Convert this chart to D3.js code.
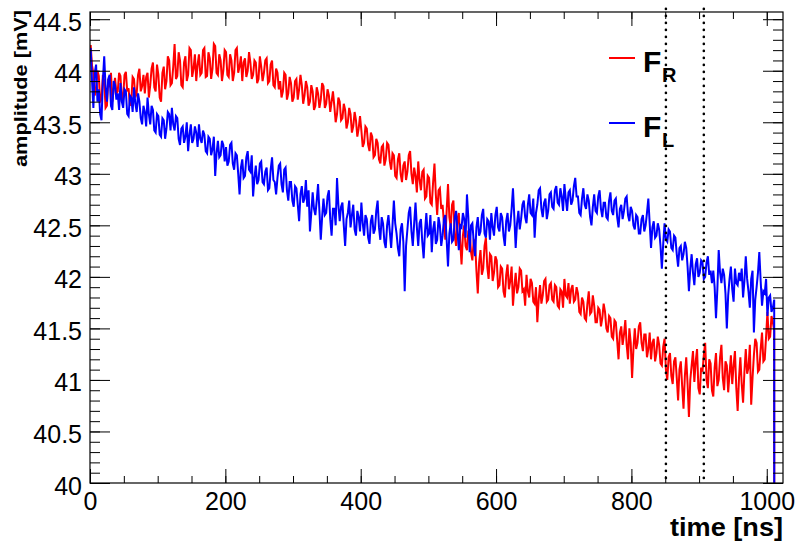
<!DOCTYPE html>
<html><head><meta charset="utf-8">
<script src="https://cdn.jsdelivr.net/npm/d3@7"></script>
<style>html,body{margin:0;padding:0;background:#fff;} svg{display:block;}</style>
</head><body><svg id="c" width="800" height="543"></svg>
<script>
const binWidth = 2; // ns per bin
const timeTicks = [0, 200, 400, 600, 800, 1000];
const ampTicks = [40, 40.5, 41, 41.5, 42, 42.5, 43, 43.5, 44, 44.5];
const markerTimes = [851, 907];
const seriesSubs = ["R", "L"];
const xTitle = "time [ns]";
const yTitle = "amplitude [mV]";

const redValues = [
44.25,44.05,43.98,43.76,43.82,44.00,43.95,43.70,43.72,43.96,43.90,43.64,43.66,43.92,43.84,43.98,43.70,43.82,43.93,43.78,
43.80,43.98,43.95,43.72,43.74,43.96,43.99,43.80,43.83,43.66,43.70,43.94,43.92,43.74,43.78,43.96,44.02,43.80,43.85,43.96,
43.78,43.94,43.98,43.74,43.86,44.02,44.08,43.84,43.80,44.06,43.96,43.74,43.70,43.98,44.04,43.82,43.90,44.14,44.10,43.86,
43.88,44.04,44.26,43.92,43.95,44.18,44.10,43.86,43.84,44.08,44.14,43.90,43.96,44.22,44.20,43.94,44.02,44.16,43.90,44.06,
44.16,43.96,43.98,44.20,44.22,43.94,43.95,44.18,44.12,43.92,44.02,44.26,44.24,43.98,43.96,44.16,44.10,43.90,44.00,44.20,
44.18,43.96,43.94,44.16,44.10,43.90,43.98,44.20,44.22,43.98,44.04,44.14,43.90,44.08,44.12,43.94,44.00,44.18,44.08,43.92,
43.96,44.10,44.08,43.88,43.92,44.14,44.04,43.90,43.98,44.10,44.12,43.88,43.90,44.06,44.10,43.86,43.84,44.02,43.98,43.82,
43.90,43.74,43.80,43.98,43.96,43.72,43.78,43.94,43.88,43.70,43.74,43.90,43.92,43.72,43.82,43.96,43.86,43.68,43.76,43.90,
43.84,43.66,43.70,43.86,43.80,43.62,43.66,43.84,43.78,43.64,43.72,43.88,43.85,43.64,43.68,43.82,43.76,43.60,43.70,43.80,
43.66,43.50,43.58,43.74,43.70,43.52,43.54,43.68,43.62,43.44,43.50,43.64,43.58,43.40,43.46,43.60,43.52,43.36,43.44,43.56,
43.42,43.26,43.30,43.46,43.44,43.28,43.22,43.40,43.36,43.16,43.18,43.34,43.30,43.14,43.10,43.26,43.28,43.08,43.14,43.30,
43.28,43.12,43.04,43.20,43.18,42.98,42.96,43.14,43.20,43.00,42.92,43.08,43.12,42.94,43.02,43.18,43.22,43.00,42.90,43.06,
42.98,42.82,43.12,42.94,42.84,43.02,43.04,42.76,42.78,42.98,42.96,42.72,42.70,42.92,43.10,42.80,42.60,42.84,42.86,42.66,
42.70,42.52,42.36,42.64,42.90,42.58,42.48,42.70,42.74,42.40,42.30,42.56,42.62,42.34,42.12,42.40,42.50,42.30,42.26,42.44,
42.44,42.24,42.16,42.36,42.34,42.06,41.84,42.14,42.26,42.02,42.08,42.30,42.38,42.10,41.98,42.22,42.20,41.96,42.04,42.20,
42.16,41.90,41.92,42.10,42.08,41.86,41.80,42.02,42.12,41.88,41.96,42.10,41.72,41.90,42.04,41.84,41.90,42.08,42.06,41.86,
41.88,41.72,42.02,41.86,41.80,41.98,41.94,41.76,41.74,41.90,41.56,41.78,41.92,41.74,41.82,41.96,41.98,41.76,41.78,41.92,
41.94,41.78,41.76,41.92,41.90,41.72,41.70,41.88,41.86,41.70,41.98,41.82,41.80,41.94,41.74,41.88,41.92,41.76,41.78,41.90,
41.84,41.66,41.64,41.80,41.76,41.60,41.58,41.74,41.86,41.64,41.66,41.82,41.72,41.56,41.56,41.70,41.68,41.52,41.60,41.74,
41.66,41.50,41.46,41.62,41.60,41.42,41.40,41.58,41.56,41.38,41.20,41.46,41.52,41.34,41.44,41.58,41.34,41.20,41.50,41.36,
41.02,41.30,41.50,41.30,41.36,41.52,41.56,41.36,41.28,41.44,41.44,41.22,41.30,41.46,41.20,41.36,41.40,41.18,41.26,41.42,
41.34,41.16,41.14,41.32,41.40,41.10,41.00,41.22,41.26,41.04,40.96,41.18,41.22,41.02,40.80,41.10,41.18,40.94,40.72,41.04,
41.22,40.96,40.64,41.00,41.14,41.28,40.98,41.18,41.30,40.92,40.86,41.12,41.08,41.24,41.36,41.00,40.92,41.20,41.16,40.90,
40.84,41.12,41.26,40.94,41.00,41.22,41.34,41.02,40.90,41.18,41.14,40.88,41.06,41.24,40.96,41.14,41.28,40.92,40.70,41.02,
41.22,40.96,40.78,41.08,41.30,41.06,41.12,41.34,40.76,41.02,41.24,41.40,41.36,41.08,41.10,41.30,41.46,41.18,41.20,41.42,
41.66,41.40,41.42,41.62,41.56,41.48,0
];

const blueValues = [
44.22,43.90,43.64,43.98,44.06,43.70,43.82,43.58,43.52,43.90,44.14,43.84,43.70,43.92,43.96,43.66,43.62,43.90,43.86,43.72,
43.78,43.62,43.88,43.70,43.64,43.82,43.80,43.58,43.56,43.76,43.74,43.60,43.84,43.68,43.60,43.78,43.70,43.54,43.48,43.66,
43.60,43.46,43.74,43.58,43.48,43.66,43.62,43.42,43.40,43.58,43.56,43.38,43.36,43.54,43.52,43.34,43.44,43.60,43.58,43.42,
43.64,43.48,43.42,43.56,43.54,43.34,43.28,43.44,43.46,43.30,43.36,43.50,43.22,43.38,43.48,43.30,43.34,43.46,43.40,43.26,
43.48,43.34,43.30,43.42,43.38,43.22,43.20,43.36,43.34,43.18,43.24,43.36,42.98,43.20,43.32,43.16,43.18,43.32,43.28,43.12,
43.26,43.08,43.12,43.28,43.30,43.10,43.04,43.20,43.18,43.00,42.80,43.06,43.14,42.96,42.98,43.16,43.22,43.04,43.02,43.18,
42.78,42.96,43.08,42.90,42.94,43.10,43.12,42.92,42.90,43.02,43.06,42.84,42.86,43.04,43.16,42.94,42.92,42.80,42.96,43.08,
43.10,42.90,42.82,43.04,43.06,42.84,42.74,42.92,42.92,42.74,42.68,42.88,42.86,42.70,42.54,42.80,42.88,42.72,42.76,42.94,
42.68,42.84,42.44,42.62,42.82,42.66,42.60,42.74,42.90,42.64,42.36,42.58,42.76,42.60,42.62,42.78,42.84,42.56,42.40,42.66,
42.66,42.50,42.96,42.70,42.54,42.68,42.72,42.50,42.30,42.56,42.62,42.74,42.48,42.60,42.70,42.46,42.40,42.64,42.58,42.44,
42.72,42.52,42.40,42.60,42.56,42.38,42.32,42.54,42.60,42.42,42.46,42.64,42.74,42.48,42.36,42.58,42.52,42.34,42.28,42.50,
42.60,42.44,42.28,42.50,42.74,42.52,42.42,42.28,42.20,42.46,42.52,42.34,41.86,42.30,42.46,42.62,42.68,42.44,42.30,42.52,
42.72,42.48,42.30,42.52,42.56,42.34,42.18,42.44,42.62,42.40,42.42,42.60,42.24,42.46,42.54,42.32,42.36,42.58,42.50,42.30,
42.40,42.56,42.60,42.36,42.10,42.42,42.52,42.34,42.36,42.58,42.64,42.44,42.26,42.50,42.48,42.62,42.56,42.38,42.80,42.58,
42.24,42.50,42.52,42.34,42.20,42.48,42.58,42.40,42.44,42.60,42.66,42.42,42.38,42.56,42.54,42.36,42.62,42.48,42.40,42.60,
42.68,42.48,42.44,42.62,42.58,42.40,42.30,42.54,42.62,42.44,42.50,42.66,42.86,42.58,42.28,42.52,42.64,42.46,42.56,42.70,
42.74,42.58,42.52,42.70,42.80,42.62,42.60,42.76,42.38,42.62,42.70,42.84,42.86,42.66,42.58,42.72,42.76,42.56,42.64,42.80,
42.82,42.68,42.66,42.84,42.88,42.72,42.70,42.86,42.78,42.64,42.90,42.76,42.64,42.82,42.84,42.70,42.74,42.88,42.96,42.78,
42.78,42.62,42.60,42.76,42.86,42.70,42.66,42.80,42.74,42.58,42.50,42.68,42.80,42.64,42.62,42.78,42.84,42.66,42.58,42.72,
42.72,42.58,42.56,42.74,42.82,42.64,42.60,42.74,42.76,42.58,42.48,42.66,42.70,42.56,42.64,42.76,42.78,42.60,42.54,42.68,
42.64,42.50,42.46,42.60,42.58,42.42,42.42,42.56,42.60,42.44,42.50,42.62,42.76,42.52,42.28,42.48,42.54,42.38,42.40,42.52,
42.46,42.30,42.08,42.32,42.52,42.36,42.34,42.46,42.44,42.28,42.26,42.40,42.38,42.22,42.10,42.28,42.30,42.16,42.22,42.34,
42.28,42.10,41.86,42.08,42.22,42.04,41.92,42.12,42.18,42.00,42.04,42.16,42.14,41.98,42.00,42.14,42.20,42.02,42.06,41.94,
42.06,41.90,41.60,41.88,42.26,42.04,41.94,42.08,42.02,41.84,41.50,41.82,41.98,42.10,41.88,41.76,42.08,41.94,41.92,42.04,
41.96,42.08,41.80,41.96,42.20,41.98,41.86,41.70,41.98,42.06,41.46,41.78,41.90,42.04,42.24,41.96,41.72,41.86,41.84,41.98,
41.62,41.80,41.82,41.66,41.70,41.78,0
];

const svg = d3.select("#c");
const L = 90, R = 783, T = 12, B = 483;
const x = d3.scaleLinear().domain([0, 1024]).range([L, R]);
const y = d3.scaleLinear().domain([40, 44.57]).range([B, T]);
const font = "'Liberation Sans', Arial, Helvetica, sans-serif";

svg.append("rect").attr("width", 800).attr("height", 543).attr("fill", "#fff");

svg.append("defs").append("clipPath").attr("id", "clip")
  .append("rect").attr("x", L).attr("y", T).attr("width", R - L).attr("height", B - T);

const line = d3.line()
  .x((d, i) => x(i * binWidth + binWidth / 2))
  .y(d => y(d));

const plot = svg.append("g").attr("clip-path", "url(#clip)");
plot.append("path").datum(redValues).attr("d", line)
  .attr("fill", "none").attr("stroke", "#ff0000").attr("stroke-width", 2).attr("stroke-linejoin", "miter");
plot.append("path").datum(blueValues).attr("d", line)
  .attr("fill", "none").attr("stroke", "#0000ff").attr("stroke-width", 2).attr("stroke-linejoin", "miter");

// dotted markers
svg.selectAll("line.marker").data(markerTimes).enter().append("line")
  .attr("class", "marker")
  .attr("x1", d => x(d)).attr("x2", d => x(d))
  .attr("y1", y(44.6)).attr("y2", y(40))
  .attr("stroke", "#000").attr("stroke-width", 2.6)
  .attr("stroke-linecap", "round").attr("stroke-dasharray", "0,7");

// axes
const minorY = d3.range(400, 446, 1).map(v => v / 10);
const minorX = d3.range(0, 1001, 50);

function styleAxis(g) {
  g.select(".domain").remove();
  g.selectAll(".tick line").attr("stroke", "#000").attr("stroke-width", 1);
}

svg.append("g").attr("transform", `translate(${L},0)`)
  .call(d3.axisLeft(y).tickValues(minorY).tickSize(-10).tickFormat(""))
  .call(styleAxis);
svg.append("g").attr("transform", `translate(${L},0)`)
  .call(d3.axisLeft(y).tickValues(ampTicks).tickSize(-20).tickPadding(8).tickFormat(d => String(d)))
  .call(styleAxis)
  .call(g => g.selectAll("text").attr("font-family", font).attr("font-size", 25)
    .attr("fill", "#000").attr("dy", "0.44em"));
svg.append("g").attr("transform", `translate(${R},0)`)
  .call(d3.axisRight(y).tickValues(minorY).tickSize(-10).tickFormat(""))
  .call(styleAxis);
svg.append("g").attr("transform", `translate(${R},0)`)
  .call(d3.axisRight(y).tickValues(ampTicks).tickSize(-20).tickFormat(""))
  .call(styleAxis);

svg.append("g").attr("transform", `translate(0,${B})`)
  .call(d3.axisBottom(x).tickValues(minorX).tickSize(-7).tickFormat(""))
  .call(styleAxis);
svg.append("g").attr("transform", `translate(0,${B})`)
  .call(d3.axisBottom(x).tickValues(timeTicks).tickSize(-14).tickPadding(9).tickFormat(d => String(d)))
  .call(styleAxis)
  .call(g => g.selectAll("text").attr("font-family", font).attr("font-size", 25).attr("fill", "#000"));
svg.append("g").attr("transform", `translate(0,${T})`)
  .call(d3.axisTop(x).tickValues(minorX).tickSize(-7).tickFormat(""))
  .call(styleAxis);
svg.append("g").attr("transform", `translate(0,${T})`)
  .call(d3.axisTop(x).tickValues(timeTicks).tickSize(-14).tickFormat(""))
  .call(styleAxis);

svg.append("rect").attr("x", L).attr("y", T).attr("width", R - L).attr("height", B - T)
  .attr("fill", "none").attr("stroke", "#000").attr("stroke-width", 1.2);

// titles
svg.append("text").attr("x", R).attr("y", 536).attr("text-anchor", "end")
  .attr("font-family", font).attr("font-weight", "bold").attr("font-size", 26)
  .attr("textLength", 113).attr("lengthAdjust", "spacingAndGlyphs").text(xTitle);
svg.append("text").attr("transform", "translate(27,10) rotate(-90)").attr("text-anchor", "end")
  .attr("font-family", font).attr("font-weight", "bold").attr("font-size", 18)
  .attr("textLength", 157).attr("lengthAdjust", "spacingAndGlyphs").text(yTitle);

// legend
const legColors = ["#ff0000", "#0000ff"];
const legY = [58, 123];
seriesSubs.forEach((s, i) => {
  svg.append("line").attr("x1", 609).attr("x2", 635).attr("y1", legY[i]).attr("y2", legY[i])
    .attr("stroke", legColors[i]).attr("stroke-width", 2);
  svg.append("text").attr("x", 643).attr("y", legY[i] + 14)
    .attr("font-family", font).attr("font-weight", "bold").attr("font-size", 30).text("F");
  svg.append("text").attr("x", 662).attr("y", legY[i] + 24)
    .attr("font-family", font).attr("font-weight", "bold").attr("font-size", 20).text(s);
});
</script>
</body></html>
